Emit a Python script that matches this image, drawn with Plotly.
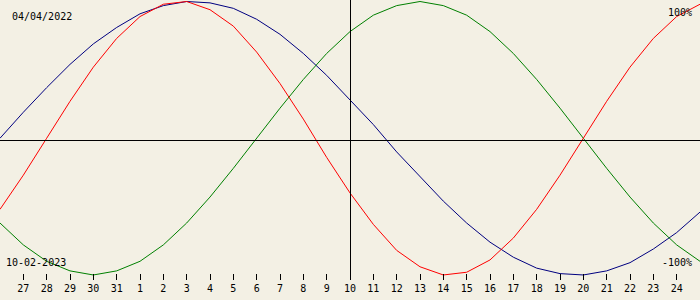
import plotly.graph_objects as go

# Day labels along the bottom (26 Jan .. 25 Feb 2023); index -1 is the left edge
day_index = list(range(-1, 30))
tick_index = list(range(0, 29))
tick_labels = ["27", "28", "29", "30", "31"] + [str(d) for d in range(1, 25)]

# Biorhythm values (-1 .. 1) per day
physical = [-0.52, -0.27, 0.00, 0.27, 0.52, 0.73, 0.89, 0.98, 1.00, 0.94, 0.82,
            0.63, 0.40, 0.14, -0.14, -0.40, -0.63, -0.82, -0.94, -1.00, -0.98,
            -0.89, -0.73, -0.52, -0.27, 0.00, 0.27, 0.52, 0.73, 0.89, 0.98]
emotional = [-0.62, -0.78, -0.90, -0.97, -1.00, -0.97, -0.90, -0.78, -0.62, -0.43,
             -0.22, 0.00, 0.22, 0.43, 0.62, 0.78, 0.90, 0.97, 1.00, 0.97, 0.90,
             0.78, 0.62, 0.43, 0.22, 0.00, -0.22, -0.43, -0.62, -0.78, -0.90]
intellectual = [0.00, 0.19, 0.37, 0.54, 0.69, 0.81, 0.91, 0.97, 1.00, 0.99, 0.95,
                0.87, 0.76, 0.62, 0.46, 0.28, 0.10, -0.10, -0.28, -0.46, -0.62,
                -0.76, -0.87, -0.95, -0.99, -1.00, -0.97, -0.91, -0.81, -0.69, -0.54]

birth_label = "04/04/2022"
date_label = "10-02-2023"
center_index = 14

BG = "#f3f0e4"
FONT = "DejaVu Sans Mono"

YMAX = 1.011
YMIN = -1.183

fig = go.Figure()
fig.add_trace(go.Scatter(x=day_index, y=intellectual, mode="lines",
                         line=dict(color="#000080", width=1), hoverinfo="skip"))
fig.add_trace(go.Scatter(x=day_index, y=emotional, mode="lines",
                         line=dict(color="#008000", width=1), hoverinfo="skip"))
fig.add_trace(go.Scatter(x=day_index, y=physical, mode="lines",
                         line=dict(color="#ff0000", width=1), hoverinfo="skip"))

# Axes cross lines
fig.add_shape(type="line", xref="paper", yref="y", x0=0, x1=1, y0=-0.0165, y1=-0.0165,
              line=dict(color="black", width=1))
fig.add_shape(type="line", xref="x", yref="y", x0=center_index + 0.0214,
              x1=center_index + 0.0214, y0=YMAX, y1=-1.03,
              line=dict(color="black", width=1))

ann_font = dict(family=FONT, size=10, color="black")
fig.add_annotation(xref="paper", yref="paper", x=10 / 700, y=1 - 16.5 / 300, text=birth_label,
                   showarrow=False, font=ann_font, xanchor="left", yanchor="middle")
fig.add_annotation(xref="paper", yref="paper", x=4 / 700, y=1 - 262 / 300, text=date_label,
                   showarrow=False, font=ann_font, xanchor="left", yanchor="middle")
fig.add_annotation(xref="paper", yref="paper", x=694 / 700, y=1 - 12 / 300, text="100%",
                   showarrow=False, font=ann_font, xanchor="right", yanchor="middle")
fig.add_annotation(xref="paper", yref="paper", x=694 / 700, y=1 - 262 / 300, text="-100%",
                   showarrow=False, font=ann_font, xanchor="right", yanchor="middle")

fig.update_layout(
    width=700, height=300, autosize=False,
    margin=dict(l=0, r=0, t=0, b=0, pad=0),
    paper_bgcolor=BG, plot_bgcolor=BG,
    showlegend=False,
    xaxis=dict(range=[-1, 29], anchor="free", position=(300 - 273) / 300,
               tickmode="array", tickvals=tick_index, ticktext=tick_labels,
               ticks="outside", ticklen=6, tickwidth=1, tickcolor="black",
               tickfont=dict(family=FONT, size=10, color="black"),
               showline=False, showgrid=False, zeroline=False, fixedrange=True),
    yaxis=dict(range=[YMIN, YMAX], visible=False, showgrid=False, zeroline=False,
               fixedrange=True, domain=[0, 1]),
)

fig.write_html("out.html", config={"displayModeBar": False})
